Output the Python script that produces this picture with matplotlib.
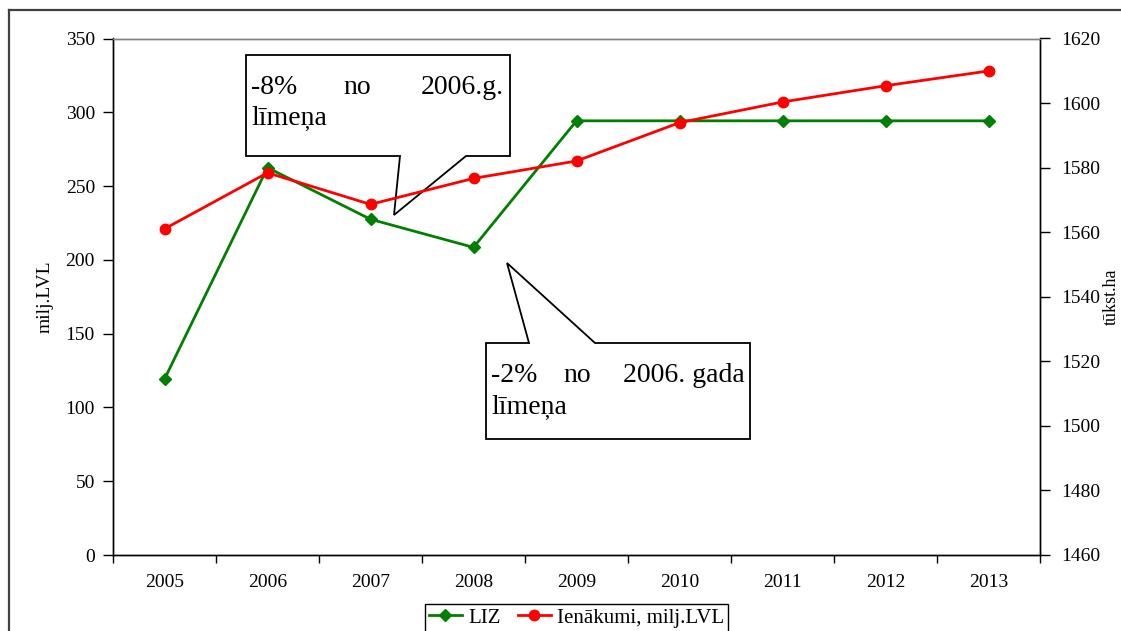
import matplotlib
matplotlib.use("Agg")
import matplotlib.pyplot as plt
from matplotlib.patches import Polygon
from matplotlib.lines import Line2D
import numpy as np

years = ["2005", "2006", "2007", "2008", "2009", "2010", "2011", "2012", "2013"]
liz = [1514.5, 1580, 1564, 1555.3, 1594.5, 1594.5, 1594.5, 1594.5, 1594.5]      # tūkst.ha (right axis)
ienakumi = [221, 259, 237.6, 255.2, 267, 293, 307, 318, 328]                  # milj.LVL (left axis)
left_ticks = [0, 50, 100, 150, 200, 250, 300, 350]
right_ticks = [1460, 1480, 1500, 1520, 1540, 1560, 1580, 1600, 1620]

W, H = 1121, 631
plt.rcParams['font.family'] = ['Liberation Serif', 'DejaVu Serif']

fig = plt.figure(figsize=(W / 100, H / 100), dpi=100)

def fx(x):
    return x / W

def fy(y):
    return 1 - y / H

ax = fig.add_axes([fx(113), fy(555), fx(1040) - fx(113), fy(38.5) - fy(555)])
ax2 = ax.twinx()
ax.set_zorder(ax2.get_zorder() + 1)
ax.patch.set_visible(False)
ax2.patch.set_visible(False)

x = np.arange(len(years))
ax2.plot(x, liz, color='#008000', lw=2.0, marker='D', markersize=6.5, label='LIZ')
ax.plot(x, ienakumi, color='#ff0000', lw=2.0, marker='o', markersize=7.5,
        label='Ienākumi, milj.LVL')

ax.set_xlim(-0.5, len(years) - 0.5)
ax.set_ylim(0, 350)
ax2.set_ylim(1460, 1620)
ax.set_yticks(left_ticks)
ax2.set_yticks(right_ticks)

ax.set_xticks(np.arange(-0.5, len(years), 1.0))
ax.set_xticklabels([])
ax.set_xticks(x, minor=True)
ax.set_xticklabels(years, minor=True)
ax.tick_params(axis='x', which='major', direction='out', length=6, width=1, color='black')
ax.tick_params(axis='x', which='minor', length=0, pad=14, labelsize=14)
ax.tick_params(axis='y', direction='out', length=7, width=1, pad=6, labelsize=14)
ax2.tick_params(axis='y', direction='out', length=7, width=1, pad=8, labelsize=14)

for a in (ax, ax2):
    for s in a.spines.values():
        s.set_linewidth(1.0)
        s.set_color('black')
    a.spines['top'].set_color('#808080')

fig.text(fx(45), fy(297), 'milj.LVL', rotation=90, ha='center', va='center', fontsize=14)
fig.text(fx(1103), fy(297), 'tūkst.ha', rotation=90, ha='left', va='center', fontsize=13)

# callouts (pixel layout)
def callout(pts):
    p = Polygon([(fx(a), fy(b)) for a, b in pts], closed=True, transform=fig.transFigure,
                facecolor='white', edgecolor='black', lw=1.3, zorder=-1)
    fig.patches.append(p)

callout([(246, 55), (510, 55), (510, 156), (466, 156), (394, 215), (400, 156), (246, 156)])
callout([(486, 343), (529, 343), (507, 263), (595, 343), (750, 343), (750, 439), (486, 439)])

fs = 20
fig.text(fx(251), fy(87), '-8%', ha='left', va='center', fontsize=fs)
fig.text(fx(357), fy(87), 'no', ha='center', va='center', fontsize=fs)
fig.text(fx(504), fy(87), '2006.g.', ha='right', va='center', fontsize=fs)
fig.text(fx(251), fy(118), 'līmeņa', ha='left', va='center', fontsize=fs)

fig.text(fx(491), fy(375), '-2%', ha='left', va='center', fontsize=fs)
fig.text(fx(577), fy(375), 'no', ha='center', va='center', fontsize=fs)
fig.text(fx(745), fy(375), '2006. gada', ha='right', va='center', fontsize=fs)
fig.text(fx(491), fy(407), 'līmeņa', ha='left', va='center', fontsize=fs)

# legend
handles = [Line2D([], [], color='#008000', lw=2.0, marker='D', markersize=6.5),
           Line2D([], [], color='#ff0000', lw=2.0, marker='o', markersize=7.5)]
leg = fig.legend(handles, ['LIZ', 'Ienākumi, milj.LVL'], loc='upper center',
                 bbox_to_anchor=(fx(576.5), fy(604)), ncol=2, fontsize=15,
                 frameon=True, fancybox=False, framealpha=1, edgecolor='black',
                 handlelength=1.6, handletextpad=0.3, columnspacing=0.8,
                 borderpad=0.2, borderaxespad=0)
leg.get_frame().set_linewidth(1.0)

# outer chart frame
fig.add_artist(Line2D([fx(8.5), fx(8.5)], [fy(10), 0], transform=fig.transFigure,
                      color='#404040', lw=1.6))
fig.add_artist(Line2D([fx(8.5), 1], [fy(10), fy(10)], transform=fig.transFigure,
                      color='#404040', lw=1.6))

fig.savefig('out.png', dpi=100)
